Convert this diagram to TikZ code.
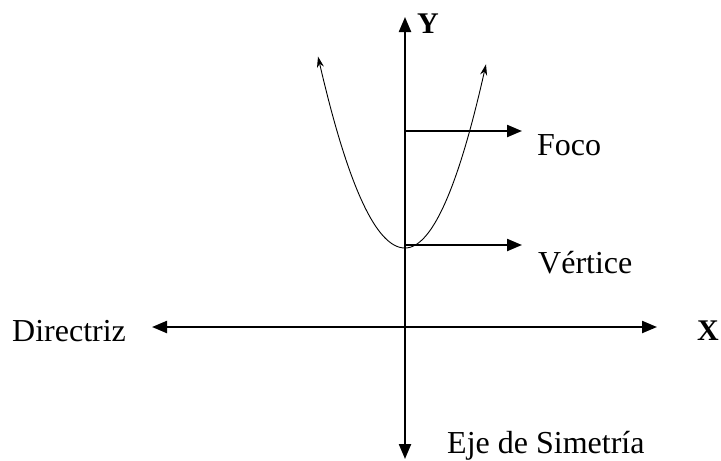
\documentclass[tikz,border=0pt]{standalone}
\usepackage{fontspec}
\setmainfont{Liberation Serif}
\usetikzlibrary{arrows.meta}
\begin{document}
\begin{tikzpicture}[x=1pt,y=-1pt,
  axis/.style={line width=2.2pt,-{Triangle[length=15pt,width=12pt]}},
  bothaxis/.style={line width=2.2pt,{Triangle[length=15pt,width=12pt]}-{Triangle[length=15pt,width=12pt]}},
  curve/.style={line width=0.9pt,-{Stealth[length=11pt,width=7pt]}},
  lbl/.style={anchor=base west,inner sep=0pt,font=\fontsize{32}{36}\selectfont},
  blbl/.style={anchor=base west,inner sep=0pt,font=\fontsize{30}{36}\selectfont\bfseries}]
\useasboundingbox (0,0) rectangle (721,461);
% axes
\coordinate (ytop) at (405,17);
\coordinate (ybot) at (405,459);
\coordinate (xl) at (152,327);
\coordinate (xr) at (657,327);
\coordinate (v) at (405,245);
\coordinate (vtip) at (522,245);
\coordinate (f) at (405,131);
\coordinate (ftip) at (522,131);
\draw[bothaxis] (ybot) -- (ytop);
\draw[bothaxis] (xl) -- (xr);
\draw[axis] (f) -- (ftip);
\draw[axis] (v) -- (vtip);
% parabola
\draw[curve] plot[domain=405:318,samples=60] (\x,{248-0.0253*(\x-405)^2});
\draw[curve] plot[domain=405:486,samples=60] (\x,{248-0.028*(\x-405)^2});
% labels
\node[blbl] (Y) at (417,33) {Y};
\node[blbl] (X) at (697,340) {X};
\node[lbl] (foco) at (537,155) {Foco};
\node[lbl] (vert) at (538,273) {Vértice};
\node[lbl] (dir) at (12,341) {Directriz};
\node[lbl] (eje) at (447,453) {Eje de Simetría};
\end{tikzpicture}
\end{document}
